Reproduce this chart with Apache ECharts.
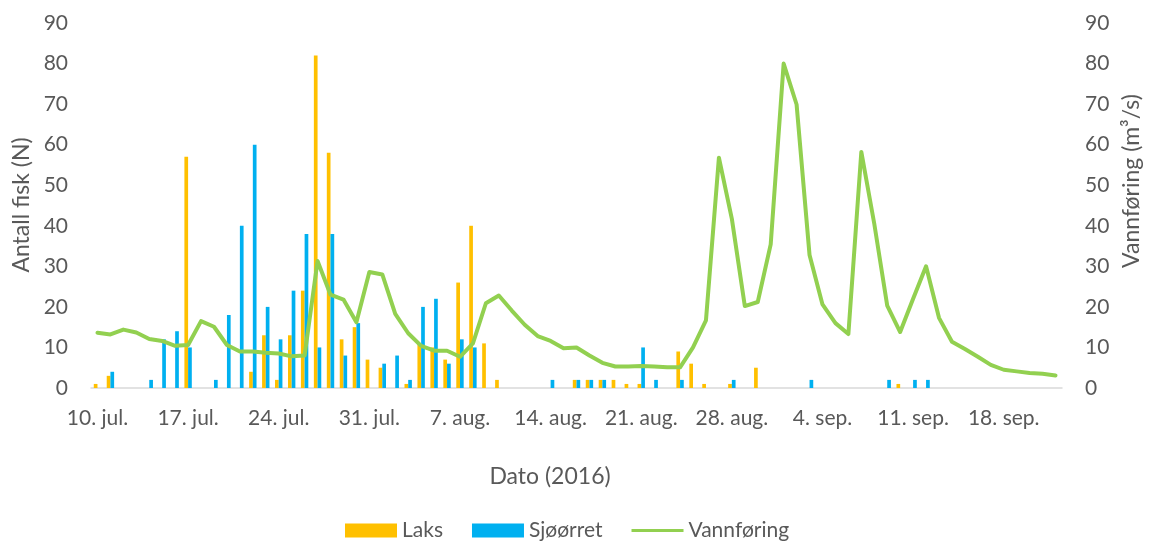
<!DOCTYPE html>
<html>
<head>
<meta charset="utf-8">
<title>Antall fisk og vannføring 2016</title>
<script src="https://cdn.jsdelivr.net/npm/echarts@6/dist/echarts.min.js"></script>
<style>
  html, body { margin: 0; padding: 0; background: #fff; }
  #chart { width: 1153px; height: 543px; }
</style>
</head>
<body>
<div id="chart"></div>
<script>
// one category per day, 10. jul. - 22. sep. 2016
const dates = [
  '10. jul.', '11. jul.', '12. jul.', '13. jul.', '14. jul.', '15. jul.', '16. jul.',
  '17. jul.', '18. jul.', '19. jul.', '20. jul.', '21. jul.', '22. jul.', '23. jul.',
  '24. jul.', '25. jul.', '26. jul.', '27. jul.', '28. jul.', '29. jul.', '30. jul.',
  '31. jul.', '1. aug.', '2. aug.', '3. aug.', '4. aug.', '5. aug.', '6. aug.',
  '7. aug.', '8. aug.', '9. aug.', '10. aug.', '11. aug.', '12. aug.', '13. aug.',
  '14. aug.', '15. aug.', '16. aug.', '17. aug.', '18. aug.', '19. aug.', '20. aug.',
  '21. aug.', '22. aug.', '23. aug.', '24. aug.', '25. aug.', '26. aug.', '27. aug.',
  '28. aug.', '29. aug.', '30. aug.', '31. aug.', '1. sep.', '2. sep.', '3. sep.',
  '4. sep.', '5. sep.', '6. sep.', '7. sep.', '8. sep.', '9. sep.', '10. sep.',
  '11. sep.', '12. sep.', '13. sep.', '14. sep.', '15. sep.', '16. sep.', '17. sep.',
  '18. sep.', '19. sep.', '20. sep.', '21. sep.', '22. sep.'
]

const laks = [
  1, 3, null, null, null, null, null,
  57, null, null, null, null, 4, 13,
  2, 13, 24, 82, 58, 12, 15,
  7, 5, null, 1, 11, 10, 7,
  26, 40, 11, 2, null, null, null,
  null, null, 2, 2, 2, 2, 1,
  1, null, null, 9, 6, 1, null,
  1, null, 5, null, null, null, null,
  null, null, null, null, null, null, 1,
  null, null, null, null, null, null, null,
  null, null, null, null, null
]

const sjoorret = [
  null, 4, null, null, 2, 12, 14,
  10, null, 2, 18, 40, 60, 20,
  12, 24, 38, 10, 38, 8, 16,
  null, 6, 8, 2, 20, 22, 6,
  12, 10, null, null, null, null, null,
  2, null, 2, 2, 2, null, null,
  10, 2, null, 2, null, null, null,
  2, null, null, null, null, null, 2,
  null, null, null, null, null, 2, null,
  2, 2, null, null, null, null, null,
  null, null, null, null, null
]

const vannforing = [
  13.6, 13.2, 14.4, 13.7, 12.1, 11.6, 10.4,
  10.6, 16.5, 15.1, 10.6, 9.0, 9.0, 8.7,
  8.5, 7.8, 8.0, 31.3, 23.0, 21.8, 16.2,
  28.6, 28.0, 18.3, 13.5, 10.4, 9.2, 9.2,
  7.7, 11.0, 20.9, 22.8, 19.1, 15.6, 12.8,
  11.6, 9.8, 10.0, 8.0, 6.2, 5.3, 5.3,
  5.4, 5.3, 5.1, 5.1, 10.0, 16.7, 56.8,
  41.7, 20.2, 21.2, 35.4, 80.0, 69.9, 32.8,
  20.6, 16.0, 13.3, 58.2, 40.5, 20.3, 13.8,
  22.0, 30.0, 17.3, 11.4, 9.6, 7.7, 5.7,
  4.5, 4.1, 3.7, 3.5, 3.1
]

const yTicks = { min: 0, max: 90, interval: 10 }

const font = 'Lato, "Open Sans", sans-serif'
const grey = '#595959'

// flat strip in the middle of the legend box, for the line series
const lineIcon = 'path://M0,0h0.01v0.01h-0.01z M0,5.5h52v3h-52z M0,13.99h0.01v0.01h-0.01z'

const chart = echarts.init(document.getElementById('chart'))

const valueAxis = {
  type: 'value',
  min: yTicks.min,
  max: yTicks.max,
  interval: yTicks.interval,
  axisLine: { show: false },
  axisTick: { show: false },
  splitLine: { show: false },
  axisLabel: { color: grey, fontSize: 21, fontFamily: font, margin: 23 }
}

const option = {
  animation: false,
  grid: { left: 91, right: 91, top: 23, bottom: 155, containLabel: false },
  legend: {
    left: 340,
    top: 515,
    itemWidth: 52,
    itemHeight: 14,
    itemGap: 29,
    textStyle: { color: grey, fontSize: 21, fontFamily: font },
    data: [
      { name: 'Laks', icon: 'rect' },
      { name: 'Sjøørret', icon: 'rect' },
      { name: 'Vannføring', icon: lineIcon, itemStyle: { color: '#92D050' } }
    ]
  },
  xAxis: {
    type: 'category',
    data: dates,
    boundaryGap: true,
    axisLine: { lineStyle: { color: '#D9D9D9', width: 1.5 } },
    axisTick: { interval: 6, length: 6, lineStyle: { color: '#D9D9D9', width: 1.5 } },
    axisLabel: { interval: 6, color: grey, fontSize: 21, fontFamily: font, margin: 20 }
  },
  yAxis: [
    Object.assign({}, valueAxis),
    Object.assign({}, valueAxis, { position: 'right' })
  ],
  graphic: [
    {
      type: 'text', x: 22, y: 205, rotation: Math.PI / 2,
      style: { text: 'Antall fisk (N)', fill: grey, fontSize: 23, fontFamily: font, align: 'center', verticalAlign: 'middle' }
    },
    {
      type: 'text', x: 1132, y: 181, rotation: Math.PI / 2,
      style: { text: 'Vannføring (m³/s)', fill: grey, fontSize: 23, fontFamily: font, align: 'center', verticalAlign: 'middle' }
    },
    {
      type: 'text', x: 550, y: 477,
      style: { text: 'Dato (2016)', fill: grey, fontSize: 23, fontFamily: font, align: 'center', verticalAlign: 'middle' }
    }
  ],
  series: [
    {
      name: 'Laks',
      type: 'bar',
      data: laks,
      barWidth: 3.7,
      barGap: '0%',
      itemStyle: { color: '#FFC000' }
    },
    {
      name: 'Sjøørret',
      type: 'bar',
      data: sjoorret,
      barWidth: 3.7,
      barGap: '0%',
      itemStyle: { color: '#00B0F0' }
    },
    {
      name: 'Vannføring',
      type: 'line',
      yAxisIndex: 1,
      data: vannforing,
      symbol: 'none',
      lineStyle: { color: '#92D050', width: 4, cap: 'round', join: 'round' },
      itemStyle: { color: '#92D050' }
    }
  ]
}

chart.setOption(option)
</script>
</body>
</html>
